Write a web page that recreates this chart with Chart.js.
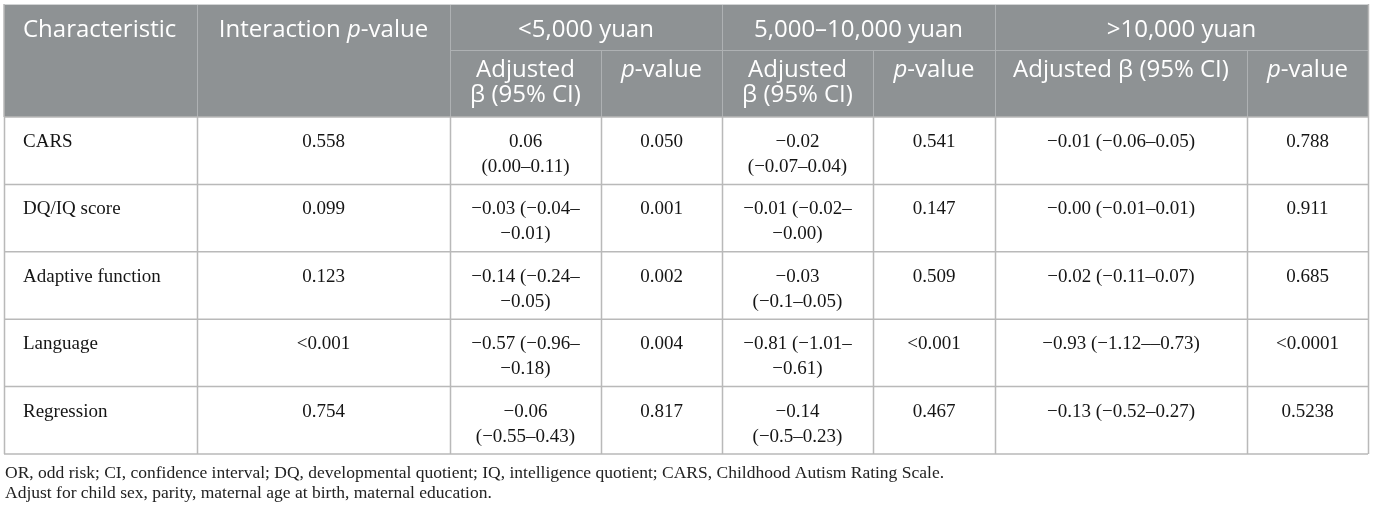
<!DOCTYPE html>
<html>
<head>
<meta charset="utf-8">
<script src="https://cdn.jsdelivr.net/npm/chart.js@4.4.1/dist/chart.umd.min.js"></script>
<style>
  html, body { margin: 0; background: #fff; }
  #wrap { position: relative; width: 1375px; height: 512px; }
</style>
</head>
<body>
<div id="wrap"><canvas id="table"></canvas></div>
<script>
const characteristics = ['CARS', 'DQ/IQ score', 'Adaptive function', 'Language', 'Regression']
const interactionP    = ['0.558', '0.099', '0.123', '<0.001', '0.754']
const betaLow  = ['0.06\n(0.00–0.11)', '−0.03 (−0.04–\n−0.01)', '−0.14 (−0.24–\n−0.05)', '−0.57 (−0.96–\n−0.18)', '−0.06\n(−0.55–0.43)']
const pLow     = ['0.050', '0.001', '0.002', '0.004', '0.817']
const betaMid  = ['−0.02\n(−0.07–0.04)', '−0.01 (−0.02–\n−0.00)', '−0.03\n(−0.1–0.05)', '−0.81 (−1.01–\n−0.61)', '−0.14\n(−0.5–0.23)']
const pMid     = ['0.541', '0.147', '0.509', '<0.001', '0.467']
const betaHigh = ['−0.01 (−0.06–0.05)', '−0.00 (−0.01–0.01)', '−0.02 (−0.11–0.07)', '−0.93 (−1.12––0.73)', '−0.13 (−0.52–0.27)']
const pHigh    = ['0.788', '0.911', '0.685', '<0.0001', '0.5238']

const groupLabels = ['<5,000 yuan', '5,000–10,000 yuan', '>10,000 yuan']
const footnotes = [
  'OR, odd risk; CI, confidence interval; DQ, developmental quotient; IQ, intelligence quotient; CARS, Childhood Autism Rating Scale.',
  'Adjust for child sex, parity, maternal age at birth, maternal education.',
]

// layout: column edges in table units, header rows in px
const colEdges  = [0, 193, 446, 597, 718, 869, 991, 1243, 1364]
const headTop   = 4
const headSplit = 50
const HEAD_SIZE = 24
const HEAD_FAMILY = '"Open Sans"'
const BODY_FONT = '19px "Liberation Serif"'
const NOTE_FONT = '17.5px "Liberation Serif"'

// draw text where "p" parts are italic; parts = [[text, italic], ...]
function richText(ctx, parts, cx, y) {
  const fonts = parts.map(p => (p[1] ? 'italic ' : '') + HEAD_SIZE + 'px ' + HEAD_FAMILY)
  const widths = parts.map((p, i) => { ctx.font = fonts[i]; return ctx.measureText(p[0]).width })
  let x = cx - widths.reduce((a, b) => a + b, 0) / 2
  parts.forEach((p, i) => {
    ctx.font = fonts[i]
    ctx.fillText(p[0], x, y)
    x += widths[i]
  })
}

const pValueParts = [['p', true], ['-value', false]]

const tablePlugin = {
  id: 'tableDraw',
  afterDraw(chart) {
    const { ctx, chartArea, scales: { x, y } } = chart
    const xs  = colEdges.map(v => x.getPixelForValue(v))
    const mid = i => (xs[i] + xs[i + 1]) / 2
    const labels = y.getLabels()
    const band = (chartArea.bottom - chartArea.top) / labels.length
    const bodyTop = chartArea.top
    const line = (x1, y1, x2, y2) => { ctx.beginPath(); ctx.moveTo(x1, y1); ctx.lineTo(x2, y2); ctx.stroke() }

    ctx.save()
    // header background
    ctx.fillStyle = '#8e9294'
    ctx.fillRect(xs[0], headTop, xs[8] - xs[0], bodyTop - headTop)

    // header lines
    ctx.strokeStyle = '#aeb1b3'
    ctx.lineWidth = 1
    ;[1, 2, 4, 6].forEach(i => line(xs[i] + 0.5, headTop, xs[i] + 0.5, bodyTop))
    ;[3, 5, 7].forEach(i => line(xs[i] + 0.5, headSplit, xs[i] + 0.5, bodyTop))
    line(xs[2], headSplit + 0.5, xs[8], headSplit + 0.5)
    ctx.strokeStyle = '#d2d4d5'
    line(xs[0], headTop + 0.5, xs[8], headTop + 0.5)

    // header text
    ctx.fillStyle = '#ffffff'
    ctx.textBaseline = 'middle'
    ctx.textAlign = 'left'
    ctx.font = HEAD_SIZE + 'px ' + HEAD_FAMILY
    ctx.fillText('Characteristic', xs[0] + 19, 30)
    richText(ctx, [['Interaction ', false], ['p', true], ['-value', false]], mid(1), 30)
    groupLabels.forEach((g, k) => richText(ctx, [[g, false]], (xs[2 + 2 * k] + xs[4 + 2 * k]) / 2, 30))
    ;[2, 4].forEach(i => {
      richText(ctx, [['Adjusted', false]], mid(i), 70)
      richText(ctx, [['β (95% CI)', false]], mid(i), 95)
    })
    richText(ctx, [['Adjusted β (95% CI)', false]], mid(6), 70)
    ;[3, 5, 7].forEach(i => richText(ctx, pValueParts, mid(i), 70))

    // body grid
    ctx.strokeStyle = '#b9b9b9'
    ctx.lineWidth = 1.5
    xs.forEach(px => line(px + 0.5, bodyTop, px + 0.5, chartArea.bottom))
    line(xs[0], headTop, xs[0], bodyTop)
    line(xs[8] + 0.5, headTop, xs[8] + 0.5, bodyTop)
    for (let r = 0; r <= labels.length; r++) {
      const py = bodyTop + r * band
      line(xs[0], py, xs[8], py)
    }

    // body text
    ctx.fillStyle = '#151515'
    ctx.font = BODY_FONT
    const columns = [interactionP, betaLow, pLow, betaMid, pMid, betaHigh, pHigh]
    labels.forEach((lab, r) => {
      const top = y.getPixelForValue(r) - band / 2
      ctx.textAlign = 'left'
      ctx.fillText(lab, xs[0] + 19, top + 25)
      ctx.textAlign = 'center'
      columns.forEach((col, c) => {
        col[r].split('\n').forEach((ln, k) => ctx.fillText(ln, mid(c + 1), top + 25 + k * 25))
      })
    })

    // footnotes
    ctx.font = NOTE_FONT
    ctx.textAlign = 'left'
    ctx.fillStyle = '#222'
    footnotes.forEach((t, k) => ctx.fillText(t, xs[0] + 1, chartArea.bottom + 19 + k * 20))
    ctx.restore()
  }
}

new Chart(document.getElementById('table'), {
  type: 'bar',
  data: { labels: characteristics, datasets: [] },
  options: {
    indexAxis: 'y',
    responsive: true,
    maintainAspectRatio: false,
    animation: false,
    layout: { padding: { left: 4, right: 7, top: 117, bottom: 58 } },
    plugins: { legend: { display: false }, tooltip: { enabled: false } },
    scales: {
      x: { type: 'linear', min: 0, max: 1364, display: false },
      y: { type: 'category', offset: true, display: false },
    },
  },
  plugins: [tablePlugin],
})
</script>
</body>
</html>
